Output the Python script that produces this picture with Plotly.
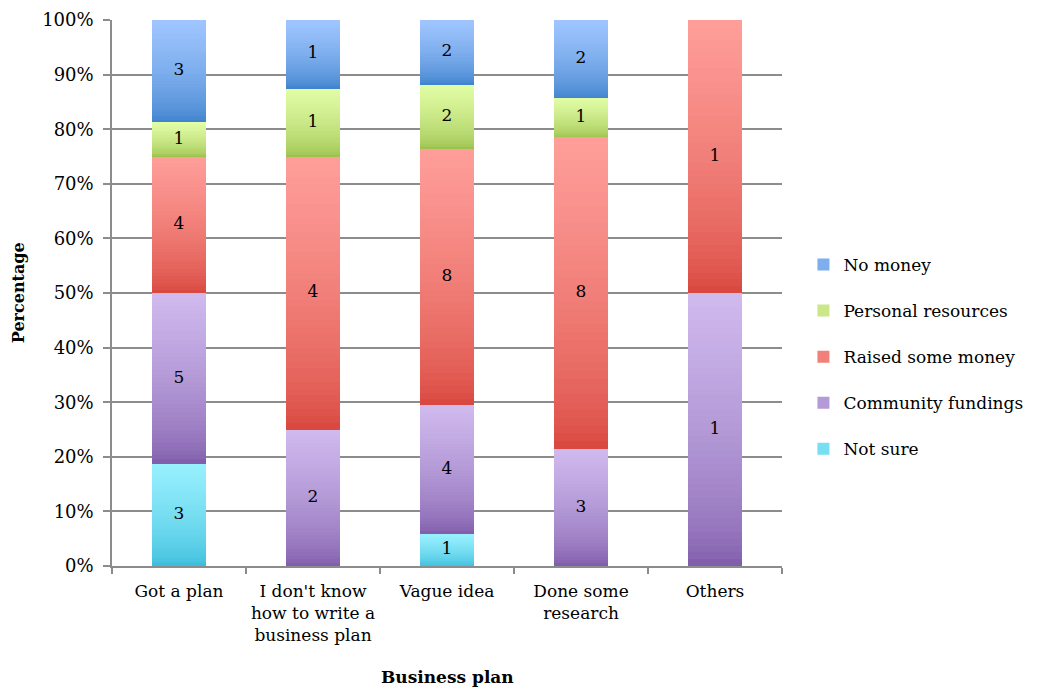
import plotly.graph_objects as go

# Business plan categories and the count of answers for each funding source
categories = [
    "Got a plan",
    "I don't know<br>how to write a<br>business plan",
    "Vague idea",
    "Done some<br>research",
    "Others",
]
not_sure = [3, 0, 1, 0, 0]
community_fundings = [5, 2, 4, 3, 1]
raised_some_money = [4, 4, 8, 8, 1]
personal_resources = [1, 1, 2, 1, 0]
no_money = [3, 1, 2, 2, 0]

# stacking order, bottom to top: (name, values, bottom colour, top colour)
series = [
    ("Not sure", not_sure, (0x36, 0xBA, 0xDA), (0x98, 0xF0, 0xFE)),
    ("Community fundings", community_fundings, (0x7C, 0x58, 0xA8), (0xD0, 0xBA, 0xEE)),
    ("Raised some money", raised_some_money, (0xD6, 0x42, 0x38), (0xFF, 0x9E, 0x9A)),
    ("Personal resources", personal_resources, (0x98, 0xBE, 0x48), (0xE2, 0xFD, 0xA6)),
    ("No money", no_money, (0x38, 0x7E, 0xCA), (0xA0, 0xC6, 0xFF)),
]

FONT = "DejaVu Serif"
GRID = "#8c8c8c"
SLICES = 40  # vertical gradient is built from thin stacked slices


def mix(c0, c1, f):
    return "rgb(%d,%d,%d)" % tuple(round(a + (b - a) * f) for a, b in zip(c0, c1))


fig = go.Figure()

n_series = len(series)
for idx, (name, vals, c_bot, c_top) in enumerate(series):
    for k in range(SLICES):
        f = ((k + 0.5) / SLICES) ** 0.6
        fig.add_trace(go.Bar(
            x=categories,
            y=[v / SLICES for v in vals],
            name=name,
            legendgroup=name,
            legendrank=n_series - idx,
            showlegend=(k == SLICES // 2),
            marker=dict(color=mix(c_bot, c_top, f), line=dict(width=0)),
            hoverinfo="skip",
        ))

# count labels centred in each segment
totals = [sum(s[1][i] for s in series) for i in range(len(categories))]
base = [0] * len(categories)
for name, vals, _, _ in series:
    xs, ys, ts = [], [], []
    for i, v in enumerate(vals):
        if v > 0:
            xs.append(categories[i])
            ys.append((base[i] + v / 2) / totals[i] * 100)
            ts.append(str(v))
        base[i] += v
    fig.add_trace(go.Scatter(
        x=xs, y=ys, text=ts, mode="text",
        textfont=dict(family=FONT, size=17, color="black"),
        showlegend=False, hoverinfo="skip", cliponaxis=False,
    ))

fig.update_layout(
    width=1041,
    height=691,
    margin=dict(l=112, r=259, t=20, b=125, autoexpand=False),
    paper_bgcolor="white",
    plot_bgcolor="white",
    barmode="stack",
    barnorm="percent",
    bargap=0.6,
    font=dict(family=FONT, size=17, color="black"),
    legend=dict(
        x=1.032, xanchor="left",
        y=0.383, yanchor="middle",
        traceorder="grouped",
        tracegroupgap=21,
        font=dict(family=FONT, size=17, color="black"),
        bgcolor="rgba(0,0,0,0)",
    ),
    xaxis=dict(
        automargin=False,
        tickangle=0,
        showline=True, linecolor=GRID, linewidth=1.5,
        ticks="outside", tickson="boundaries", ticklen=6,
        tickcolor=GRID, tickwidth=1.5,
        showgrid=False,
        ticklabelstandoff=9,
        tickfont=dict(family=FONT, size=17),
    ),
    yaxis=dict(
        automargin=False,
        range=[0, 100], dtick=10, ticksuffix="%",
        showline=True, linecolor=GRID, linewidth=1.5,
        ticks="outside", ticklen=7, tickcolor=GRID, tickwidth=1.5,
        showgrid=True, gridcolor=GRID, gridwidth=1.5,
        zeroline=False,
        ticklabelstandoff=6,
        tickfont=dict(family=FONT, size=18),
    ),
    annotations=[
        dict(text="<b>Business plan</b>", x=0.5, y=-0.203, xref="paper", yref="paper",
             xanchor="center", yanchor="middle",
             showarrow=False, font=dict(family=FONT, size=17)),
        dict(text="<b>Percentage</b>", x=-0.140, y=0.5, xref="paper", yref="paper",
             xanchor="center", yanchor="middle",
             textangle=-90, showarrow=False, font=dict(family=FONT, size=16)),
    ],
)

fig.write_html("out.html")
